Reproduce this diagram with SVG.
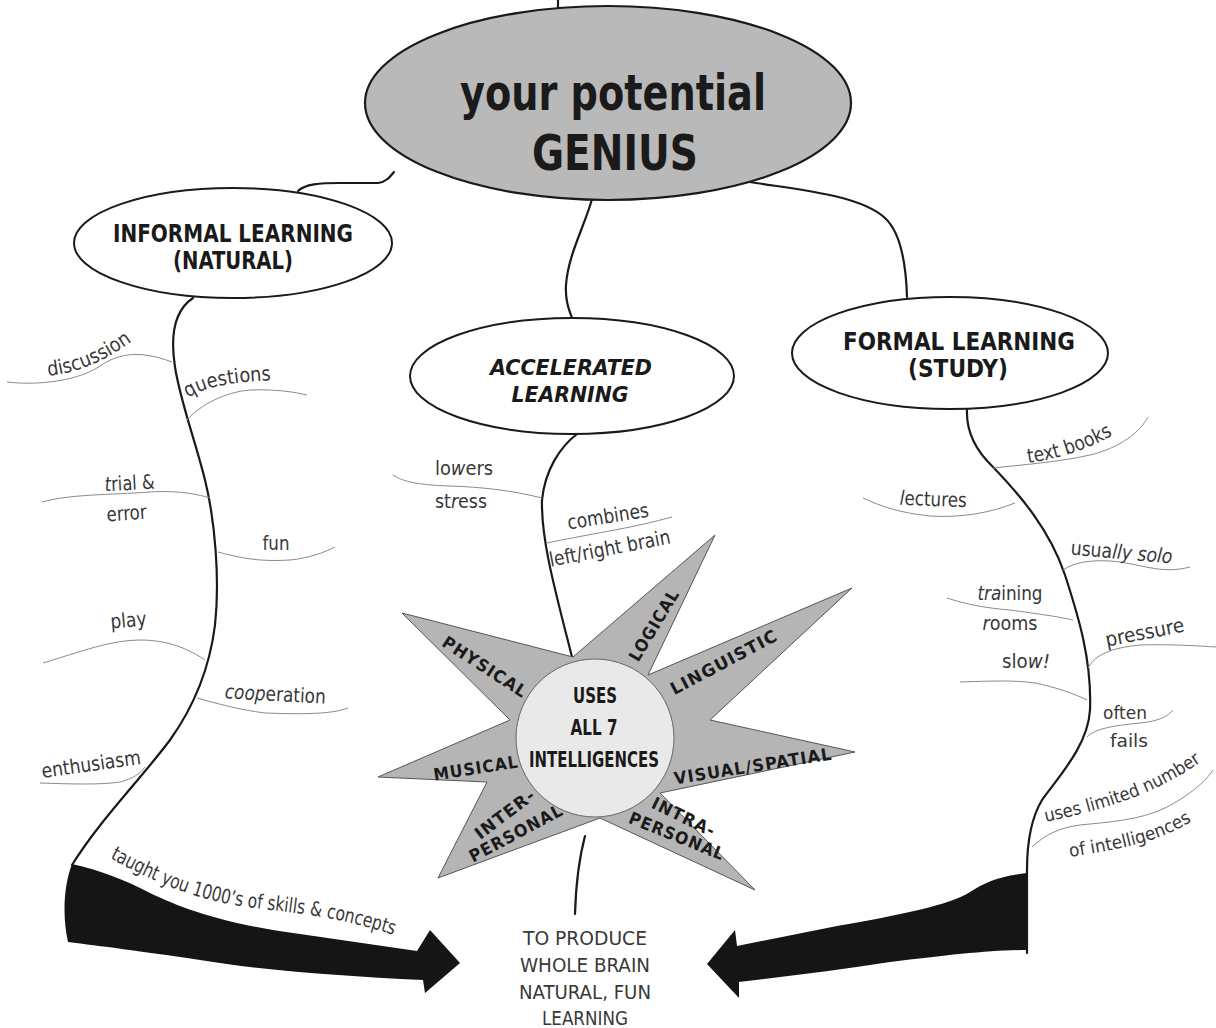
<svg xmlns="http://www.w3.org/2000/svg" width="1216" height="1028" viewBox="0 0 1216 1028">
<style>
.bg{fill:#ffffff}
.main{stroke:#1a1a1a;stroke-width:2.2;fill:none;stroke-linecap:round}
.sub{stroke:#8a8a8a;stroke-width:1;fill:none}
.node{fill:#ffffff;stroke:#1a1a1a;stroke-width:2}
.hub{fill:#b9b9b9;stroke:#1a1a1a;stroke-width:2.2}
.star{fill:#b5b5b5;stroke:#555;stroke-width:1}
.core{fill:#e9e9e9;stroke:#666;stroke-width:1}
.arrow{fill:#151515}
.title{font-family:"Liberation Sans Narrow","DejaVu Sans Condensed","Liberation Sans",sans-serif;font-weight:bold;fill:#1a1a1a}
.lbl{font-family:"Liberation Sans Narrow","DejaVu Sans Condensed","Liberation Sans",sans-serif;font-size:20px;fill:#383838}
.sm{font-size:18px}
.sl{font-family:"Liberation Sans Narrow","DejaVu Sans Condensed","Liberation Sans",sans-serif;font-weight:bold;font-size:17px;fill:#1a1a1a;letter-spacing:1px}
.it{font-style:italic}
</style>
<defs>
<path id="p-disc" d="M 48,376 C 80,372 105,362 142,334"/>
<path id="p-quest" d="M 188,398 C 205,387 228,382 278,380"/>
<path id="p-taught" d="M 110,858 C 150,880 190,898 240,906 C 290,913 340,915 408,940"/>
<path id="p-books" d="M 1028,463 C 1060,459 1090,449 1122,430"/>
<path id="p-uses" d="M 1046,822 C 1100,810 1160,796 1216,750"/>
<path id="p-intel" d="M 1070,857 C 1120,849 1160,843 1202,815"/>
</defs>
<rect class="bg" x="0" y="0" width="1216" height="1028"/>

<g id="connectors">
<path class="main" d="M 558,0 L 558,9"/>
<path class="main" d="M 298,191 C 305,184 320,183 340,183 L 378,183 C 386,182 390,177 394,172"/>
<path class="main" d="M 592,199 C 585,225 568,255 566,285 C 565,300 569,310 572,318"/>
<path class="main" d="M 750,182 C 800,190 860,195 885,218 C 900,232 906,262 907,297"/>
<path class="main" d="M 193,298 C 175,310 170,335 175,367 C 180,400 195,440 205,480 C 215,520 220,580 215,625 C 210,665 195,705 170,740 C 140,780 100,820 72,865"/>
<path class="main" d="M 577,434 C 560,447 545,470 542,500 C 541,540 555,590 572,657"/>
<path class="main" d="M 967,409 C 966,430 975,450 993,467 C 1020,495 1050,530 1065,575 C 1078,615 1092,660 1090,710 C 1088,745 1060,775 1042,800 C 1030,820 1027,845 1027,870 L 1027,953"/>
<path class="main" d="M 585,836 C 580,855 576,880 575,914"/>
<path class="sub" d="M 7,382 C 40,386 80,380 100,366 C 115,356 135,348 172,362"/>
<path class="sub" d="M 187,420 C 200,405 225,392 250,390 C 275,389 295,392 307,395"/>
<path class="sub" d="M 42,502 C 70,494 110,495 150,492 C 180,490 200,495 210,498"/>
<path class="sub" d="M 218,552 C 240,558 260,562 290,560 C 310,558 325,552 335,547"/>
<path class="sub" d="M 43,663 C 80,652 110,640 140,640 C 170,640 190,650 205,660"/>
<path class="sub" d="M 197,698 C 215,703 240,710 265,713 C 295,714 330,715 348,708"/>
<path class="sub" d="M 40,783 C 70,784 100,785 120,782 C 132,779 140,774 145,767"/>
<path class="sub" d="M 393,475 C 403,482 420,485 450,486 C 480,487 510,490 542,498"/>
<path class="sub" d="M 547,543 C 570,538 600,533 630,527 C 650,523 660,520 672,517"/>
<path class="sub" d="M 993,468 C 1020,465 1060,462 1090,455 C 1120,448 1140,432 1148,417"/>
<path class="sub" d="M 863,498 C 880,506 900,513 930,516 C 960,518 990,513 1015,503"/>
<path class="sub" d="M 1063,570 C 1075,562 1090,560 1110,561 C 1140,563 1160,575 1190,567"/>
<path class="sub" d="M 947,598 C 965,604 985,608 1010,610 C 1040,614 1060,617 1073,620"/>
<path class="sub" d="M 1088,668 C 1095,655 1110,648 1140,645 C 1170,644 1200,646 1216,647"/>
<path class="sub" d="M 960,682 C 990,681 1015,680 1035,683 C 1055,687 1075,694 1087,700"/>
<path class="sub" d="M 1087,737 C 1095,729 1110,726 1140,723 C 1160,721 1168,716 1173,710"/>
<path class="sub" d="M 1032,847 C 1045,835 1058,828 1080,825 C 1110,822 1140,820 1165,808 C 1190,795 1205,782 1213,770"/>
<path class="arrow" d="M 72,864 C 100,870 125,880 150,893 C 185,910 230,925 300,934 L 417,951 L 430,930 L 460,963 L 425,993 L 423,980 C 340,976 260,970 200,960 C 140,951 100,946 68,942 C 62,915 64,885 72,864 Z"/>
<path class="arrow" d="M 1027,873 C 1000,876 985,882 970,892 C 950,905 900,915 837,926 L 737,946 L 735,930 L 707,964 L 739,998 L 739,982 C 790,976 840,970 890,962 C 950,955 990,950 1027,950 Z"/>
</g>

<g id="hub">
<ellipse class="hub" cx="608" cy="103" rx="243" ry="97"/>
<text class="title" x="613" y="110" font-size="50" text-anchor="middle" textLength="306" lengthAdjust="spacingAndGlyphs">your potential</text>
<text class="title" x="615" y="170" font-size="50" text-anchor="middle" textLength="166" lengthAdjust="spacingAndGlyphs">GENIUS</text>
</g>

<g id="informal">
<ellipse class="node" cx="233" cy="243" rx="159" ry="55"/>
<text class="title" x="233" y="242" font-size="24" text-anchor="middle" textLength="240" lengthAdjust="spacingAndGlyphs">INFORMAL LEARNING</text>
<text class="title" x="233" y="269" font-size="24" text-anchor="middle" textLength="120" lengthAdjust="spacingAndGlyphs">(NATURAL)</text>
</g>

<g id="accelerated">
<ellipse class="node" cx="572" cy="376" rx="162" ry="58"/>
<text class="title it" x="571" y="375" font-size="22" text-anchor="middle" textLength="162" lengthAdjust="spacingAndGlyphs">ACCELERATED</text>
<text class="title it" x="570" y="402" font-size="22" text-anchor="middle" textLength="117" lengthAdjust="spacingAndGlyphs">LEARNING</text>
</g>

<g id="formal">
<ellipse class="node" cx="950" cy="353" rx="158" ry="56"/>
<text class="title" x="959" y="350" font-size="24" text-anchor="middle" textLength="232" lengthAdjust="spacingAndGlyphs">FORMAL LEARNING</text>
<text class="title" x="958" y="377" font-size="24" text-anchor="middle" textLength="100" lengthAdjust="spacingAndGlyphs">(STUDY)</text>
</g>

<g id="intelligences">
<polygon class="star" points="402,613 573,657 715,535 648,675 852,588 710,720 855,752 660,793 755,890 600,818 438,878 487,782 378,777 510,720"/>
<circle class="core" cx="595" cy="738" r="79"/>
<text class="title" x="595" y="703" font-size="22" text-anchor="middle" textLength="44" lengthAdjust="spacingAndGlyphs">USES</text>
<text class="title" x="594" y="735" font-size="22" text-anchor="middle" textLength="47" lengthAdjust="spacingAndGlyphs">ALL 7</text>
<text class="title" x="594" y="767" font-size="22" text-anchor="middle" textLength="130" lengthAdjust="spacingAndGlyphs">INTELLIGENCES</text>
<text class="sl" transform="translate(485,667) rotate(33)" dy="6" text-anchor="middle" textLength="98" lengthAdjust="spacingAndGlyphs">PHYSICAL</text>
<text class="sl" transform="translate(654,625) rotate(-59)" dy="6" text-anchor="middle" textLength="81" lengthAdjust="spacingAndGlyphs">LOGICAL</text>
<text class="sl" transform="translate(724,662) rotate(-28)" dy="6" text-anchor="middle" textLength="119" lengthAdjust="spacingAndGlyphs">LINGUISTIC</text>
<text class="sl" transform="translate(476,768) rotate(-9)" dy="6" text-anchor="middle" textLength="86" lengthAdjust="spacingAndGlyphs">MUSICAL</text>
<text class="sl" transform="translate(753,766) rotate(-9)" dy="6" text-anchor="middle" textLength="160" lengthAdjust="spacingAndGlyphs">VISUAL/SPATIAL</text>
<text class="sl" transform="translate(505,814) rotate(-37)" dy="6" text-anchor="middle" textLength="71" lengthAdjust="spacingAndGlyphs">INTER-</text>
<text class="sl" transform="translate(516,833) rotate(-28)" dy="6" text-anchor="middle" textLength="104" lengthAdjust="spacingAndGlyphs">PERSONAL</text>
<text class="sl" transform="translate(684,817) rotate(26)" dy="6" text-anchor="middle" textLength="69" lengthAdjust="spacingAndGlyphs">INTRA-</text>
<text class="sl" transform="translate(677,836) rotate(22)" dy="6" text-anchor="middle" textLength="102" lengthAdjust="spacingAndGlyphs">PERSONAL</text>
</g>

<g id="labels">
<text class="lbl"><textPath href="#p-disc" textLength="92" lengthAdjust="spacingAndGlyphs">discussion</textPath></text>
<text class="lbl"><textPath href="#p-quest" textLength="86" lengthAdjust="spacingAndGlyphs">questions</textPath></text>
<text class="lbl" transform="translate(130,490) rotate(-3)" text-anchor="middle" textLength="50" lengthAdjust="spacingAndGlyphs"><tspan class="it">t</tspan>rial &amp;</text>
<text class="lbl" transform="translate(127,520) rotate(-4)" text-anchor="middle" textLength="40" lengthAdjust="spacingAndGlyphs">error</text>
<text class="lbl" x="276" y="550" text-anchor="middle" textLength="27" lengthAdjust="spacingAndGlyphs">fun</text>
<text class="lbl" transform="translate(129,627) rotate(-5)" text-anchor="middle" textLength="36" lengthAdjust="spacingAndGlyphs">play</text>
<text class="lbl" transform="translate(275,701) rotate(3)" text-anchor="middle" textLength="101" lengthAdjust="spacingAndGlyphs"><tspan class="it">coop</tspan>eration</text>
<text class="lbl" transform="translate(92,771) rotate(-8)" text-anchor="middle" textLength="100" lengthAdjust="spacingAndGlyphs">enthusiasm</text>
<text class="lbl"><textPath href="#p-taught" textLength="296" lengthAdjust="spacingAndGlyphs">taught you 1000’s of skills &amp; concepts</textPath></text>
<text class="lbl" x="464" y="475" text-anchor="middle" textLength="58" lengthAdjust="spacingAndGlyphs">lo<tspan class="it">w</tspan>ers</text>
<text class="lbl" x="461" y="508" text-anchor="middle" textLength="52" lengthAdjust="spacingAndGlyphs">st<tspan class="it">r</tspan>ess</text>
<text class="lbl" transform="translate(609,523) rotate(-9)" text-anchor="middle" textLength="82" lengthAdjust="spacingAndGlyphs">combines</text>
<text class="lbl" transform="translate(611,555) rotate(-11)" text-anchor="middle" textLength="123" lengthAdjust="spacingAndGlyphs">left/right brain</text>
<text class="lbl"><textPath href="#p-books" textLength="90" lengthAdjust="spacingAndGlyphs">text books</textPath></text>
<text class="lbl" transform="translate(933,506) rotate(2)" text-anchor="middle" textLength="67" lengthAdjust="spacingAndGlyphs"><tspan class="it">l</tspan>ectures</text>
<text class="lbl" transform="translate(1121,559) rotate(5)" text-anchor="middle" textLength="102" lengthAdjust="spacingAndGlyphs">usua<tspan class="it">lly solo</tspan></text>
<text class="lbl" x="1010" y="600" text-anchor="middle" textLength="65" lengthAdjust="spacingAndGlyphs"><tspan class="it">tra</tspan>ining</text>
<text class="lbl" x="1010" y="630" text-anchor="middle" textLength="55" lengthAdjust="spacingAndGlyphs"><tspan class="it">r</tspan>ooms</text>
<text class="lbl" transform="translate(1146,639) rotate(-11)" text-anchor="middle" textLength="80" lengthAdjust="spacingAndGlyphs">pressure</text>
<text class="lbl" x="1026" y="668" text-anchor="middle" textLength="48" lengthAdjust="spacingAndGlyphs">slo<tspan class="it">w!</tspan></text>
<text class="lbl sm" x="1125" y="719" text-anchor="middle" textLength="44" lengthAdjust="spacingAndGlyphs">often</text>
<text class="lbl sm" x="1129" y="747" text-anchor="middle" textLength="38" lengthAdjust="spacingAndGlyphs">fails</text>
<text class="lbl sm"><textPath href="#p-uses" textLength="168" lengthAdjust="spacingAndGlyphs">uses limited number</textPath></text>
<text class="lbl sm"><textPath href="#p-intel" textLength="128" lengthAdjust="spacingAndGlyphs">of intelligences</textPath></text>
</g>

<g id="result">
<text class="lbl" x="585" y="945" text-anchor="middle" textLength="124" lengthAdjust="spacingAndGlyphs">TO PRODUCE</text>
<text class="lbl" x="585" y="972" text-anchor="middle" textLength="130" lengthAdjust="spacingAndGlyphs">WHOLE BRAIN</text>
<text class="lbl" x="585" y="999" text-anchor="middle" textLength="132" lengthAdjust="spacingAndGlyphs">NATURAL, FUN</text>
<text class="lbl" x="585" y="1025" text-anchor="middle" textLength="86" lengthAdjust="spacingAndGlyphs">LEARNING</text>
</g>
</svg>
